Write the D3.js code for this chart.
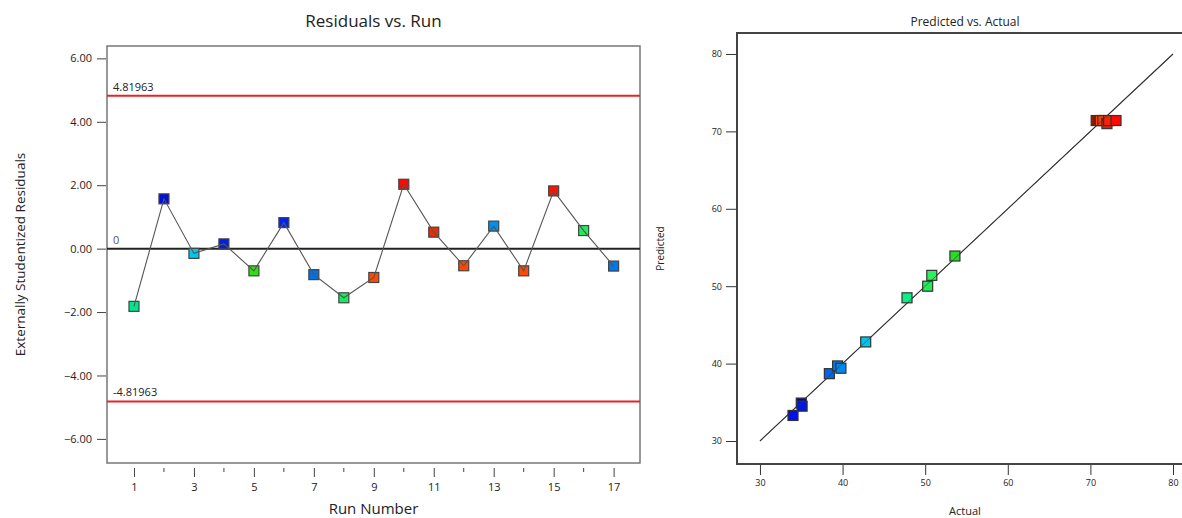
<!DOCTYPE html>
<html>
<head>
<meta charset="utf-8">
<script src="https://cdn.jsdelivr.net/npm/d3@7"></script>
<style>
  body { margin: 0; background: #fff; }
  svg { font-family: "Open Sans", "Noto Sans", sans-serif; }
</style>
</head>
<body>
<svg id="chart"></svg>
<script>
// Residuals vs. Run data
const runs = d3.range(1, 18);
const residuals = [-1.82, 1.57, -0.15, 0.15, -0.70, 0.82, -0.82, -1.55, -0.91, 2.03, 0.52, -0.54, 0.71, -0.70, 1.82, 0.57, -0.55];
const runColors = ["#00e68c", "#0010e0", "#00c8ec", "#0020e6", "#2ee010", "#0024ee", "#0070e8", "#14ec5c", "#ff4a00",
                   "#ff0800", "#f02a00", "#ff4600", "#0090ee", "#ff4a00", "#ff1200", "#22ec5a", "#0078ec"];
const limit = 4.81963;
const residTicks = [-6, -4, -2, 0, 2, 4, 6];
const runTicks = [1, 3, 5, 7, 9, 11, 13, 15, 17];

// Predicted vs. Actual data
const actual =    [34.0, 35.0, 35.1, 38.4, 39.4, 39.8, 42.8, 47.8, 50.3, 50.8, 53.6, 70.7, 71.2, 71.5, 72.0, 72.2, 73.1];
const predicted = [33.3, 34.9, 34.5, 38.7, 39.7, 39.4, 42.8, 48.5, 50.0, 51.4, 53.9, 71.4, 71.4, 71.4, 71.0, 71.4, 71.4];
const paColors =  ["#0010f0", "#0008b0", "#0018e0", "#0068e8", "#0078ec", "#0088ee", "#00c4ea", "#10ec88", "#22ec55", "#30ee60",
                   "#28dc28", "#8a1a00", "#ff4400", "#ff3a00", "#e82000", "#ff2000", "#ff0800"];
const paTicks = [30, 40, 50, 60, 70, 80];

const width = 1182, height = 518;
const svg = d3.select("#chart").attr("width", width).attr("height", height);

// ---------- Left: Residuals vs. Run ----------
const L = {left: 107, right: 640, top: 46, bottom: 463};
const xRun = d3.scaleLinear().domain([0.1, 17.88]).range([L.left, L.right]);
const yRes = d3.scaleLinear().domain([-6.76, 6.39]).range([L.bottom, L.top]);

const left = svg.append("g");

left.append("text")
  .attr("x", (L.left + L.right) / 2).attr("y", 27)
  .attr("text-anchor", "middle").attr("font-size", 17).attr("fill", "#222")
  .text("Residuals vs. Run");

// y axis (ticks outside the box)
const yAxisL = left.append("g")
  .attr("transform", `translate(${L.left - 1},0)`)
  .call(d3.axisLeft(yRes).tickValues(residTicks).tickFormat(d3.format(".2f")).tickSize(9).tickPadding(5));
yAxisL.select(".domain").remove();
yAxisL.selectAll("line").attr("stroke", "#444");
yAxisL.selectAll("text").attr("font-size", 11).attr("fill", "#222").attr("font-family", "Open Sans");

// x axis ticks below the box
const xAxisL = left.append("g")
  .attr("transform", `translate(0,${L.bottom + 5})`)
  .call(d3.axisBottom(xRun).tickValues(runTicks).tickFormat(d3.format("d")).tickSize(9).tickPadding(6));
xAxisL.select(".domain").remove();
xAxisL.selectAll("line").attr("stroke", "#444");
xAxisL.selectAll("text").attr("font-size", 11).attr("fill", "#222").attr("font-family", "Open Sans");
left.append("g")
  .selectAll("line").data([2, 4, 6, 8, 10, 12, 14, 16]).join("line")
  .attr("x1", d => xRun(d)).attr("x2", d => xRun(d))
  .attr("y1", L.bottom + 5).attr("y2", L.bottom + 9)
  .attr("stroke", "#444");

left.append("text")
  .attr("x", (L.left + L.right) / 2).attr("y", 514)
  .attr("text-anchor", "middle").attr("font-size", 15).attr("fill", "#222")
  .text("Run Number");
left.append("text")
  .attr("transform", `translate(25,${(L.top + L.bottom) / 2}) rotate(-90)`)
  .attr("text-anchor", "middle").attr("font-size", 13.5).attr("fill", "#222")
  .text("Externally Studentized Residuals");

// box
left.append("rect")
  .attr("x", L.left).attr("y", L.top)
  .attr("width", L.right - L.left).attr("height", L.bottom - L.top)
  .attr("fill", "none").attr("stroke", "#777").attr("stroke-width", 1.5);

// limit lines
[limit, -limit].forEach(v => {
  left.append("line")
    .attr("x1", L.left).attr("x2", L.right)
    .attr("y1", yRes(v)).attr("y2", yRes(v))
    .attr("stroke", "#ea2228").attr("stroke-width", 2);
  left.append("text")
    .attr("x", L.left + 6).attr("y", yRes(v) - 5)
    .attr("font-size", 11).attr("fill", "#222")
    .text(v > 0 ? "4.81963" : "-4.81963");
});

// zero line
left.append("line")
  .attr("x1", L.left).attr("x2", L.right)
  .attr("y1", yRes(0)).attr("y2", yRes(0))
  .attr("stroke", "#222").attr("stroke-width", 2);
left.append("text")
  .attr("x", L.left + 6).attr("y", yRes(0) - 5)
  .attr("font-size", 11).attr("fill", "#555")
  .text("0");

// squares
const sq = 10;
left.append("g")
  .selectAll("rect").data(runs).join("rect")
  .attr("x", (d, i) => xRun(d) - sq / 2)
  .attr("y", (d, i) => yRes(residuals[i]) - sq / 2)
  .attr("width", sq).attr("height", sq)
  .attr("fill", (d, i) => runColors[i])
  .attr("stroke", "#444").attr("stroke-width", 1.2);

// connecting line on top
left.append("path")
  .datum(runs)
  .attr("fill", "none").attr("stroke", "#555").attr("stroke-width", 1.1)
  .attr("d", d3.line().x(d => xRun(d)).y((d, i) => yRes(residuals[i])));

// ---------- Right: Predicted vs. Actual ----------
const R = {left: 737, right: 1184, top: 33, bottom: 464};
const xAct = d3.scaleLinear().domain([27.22, 81.33]).range([R.left, R.right]);
const yPred = d3.scaleLinear().domain([27.03, 82.71]).range([R.bottom, R.top]);

const right = svg.append("g");

right.append("text")
  .attr("x", 965).attr("y", 26)
  .attr("text-anchor", "middle").attr("font-size", 12).attr("fill", "#222")
  .text("Predicted vs. Actual");

const yAxisR = right.append("g")
  .attr("transform", `translate(${R.left - 1},0)`)
  .call(d3.axisLeft(yPred).tickValues(paTicks).tickSize(10).tickPadding(4));
yAxisR.select(".domain").remove();
yAxisR.selectAll("line").attr("stroke", "#333");
yAxisR.selectAll("text").attr("font-size", 9).attr("fill", "#222").attr("font-family", "Open Sans");

const xAxisR = right.append("g")
  .attr("transform", `translate(0,${R.bottom + 1})`)
  .call(d3.axisBottom(xAct).tickValues(paTicks).tickSize(10).tickPadding(5));
xAxisR.select(".domain").remove();
xAxisR.selectAll("line").attr("stroke", "#333");
xAxisR.selectAll("text").attr("font-size", 9).attr("fill", "#222").attr("font-family", "Open Sans");

right.append("text")
  .attr("x", 965).attr("y", 515)
  .attr("text-anchor", "middle").attr("font-size", 11).attr("fill", "#222")
  .text("Actual");
right.append("text")
  .attr("transform", `translate(664,${(R.top + R.bottom) / 2}) rotate(-90)`)
  .attr("text-anchor", "middle").attr("font-size", 10).attr("fill", "#222")
  .text("Predicted");

right.append("rect")
  .attr("x", R.left).attr("y", R.top)
  .attr("width", R.right - R.left).attr("height", R.bottom - R.top)
  .attr("fill", "none").attr("stroke", "#444").attr("stroke-width", 2);

right.append("line")
  .attr("x1", xAct(30)).attr("y1", yPred(30))
  .attr("x2", xAct(80)).attr("y2", yPred(80))
  .attr("stroke", "#333").attr("stroke-width", 1.1);

right.append("g")
  .selectAll("rect").data(actual).join("rect")
  .attr("x", d => xAct(d) - sq / 2)
  .attr("y", (d, i) => yPred(predicted[i]) - sq / 2)
  .attr("width", sq).attr("height", sq)
  .attr("fill", (d, i) => paColors[i])
  .attr("stroke", "#333").attr("stroke-width", 1.2);

// diagonal visible through the squares
right.append("line")
  .attr("x1", xAct(30)).attr("y1", yPred(30))
  .attr("x2", xAct(80)).attr("y2", yPred(80))
  .attr("stroke", "#333").attr("stroke-width", 0.8).attr("opacity", 0.7);
</script>
</body>
</html>
